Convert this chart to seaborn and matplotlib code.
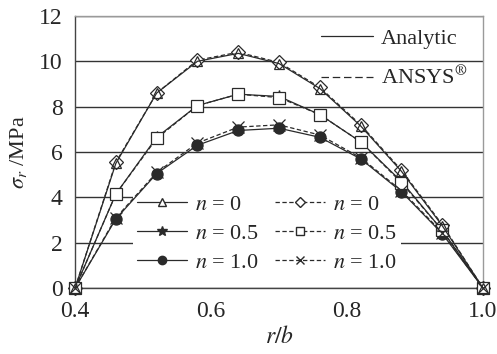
import glob
import numpy as np
import pandas as pd
import matplotlib
matplotlib.use("Agg")
import matplotlib.pyplot as plt
import seaborn as sns
from matplotlib import font_manager
from matplotlib.lines import Line2D

# r/b positions and stresses (MPa)
r_b = [0.4, 0.46, 0.52, 0.58, 0.64, 0.70, 0.76, 0.82, 0.88, 0.94, 1.0]
analytic_n0 = [0, 5.5, 8.6, 10.0, 10.35, 9.9, 8.8, 7.15, 5.15, 2.75, 0]
analytic_n05 = [0, 4.15, 6.65, 8.05, 8.55, 8.45, 7.65, 6.45, 4.7, 2.55, 0]
analytic_n1 = [0, 3.05, 5.05, 6.3, 6.95, 7.05, 6.65, 5.7, 4.25, 2.4, 0]
ansys_n0 = [0, 5.55, 8.6, 10.05, 10.4, 9.95, 8.85, 7.2, 5.2, 2.8, 0]
ansys_n05 = [0, 4.15, 6.6, 8.05, 8.55, 8.4, 7.65, 6.45, 4.65, 2.55, 0]
ansys_n1 = [0, 3.1, 5.1, 6.4, 7.1, 7.2, 6.75, 5.75, 4.3, 2.45, 0]

n_labels = ["0", "0.5", "1.0"]
y_ticks = [0, 2, 4, 6, 8, 10, 12]
x_ticks = [0.4, 0.6, 0.8, 1.0]

sns.set_style("white")
serif = "DejaVu Serif"
for f in glob.glob("/usr/share/fonts/**/LiberationSerif*.ttf", recursive=True):
    font_manager.fontManager.addfont(f)
    if f.endswith("LiberationSerif-Regular.ttf"):
        serif = font_manager.FontProperties(fname=f).get_name()
plt.rcParams["font.family"] = [serif, "DejaVu Serif"]
plt.rcParams["mathtext.fontset"] = "stix"

LC = "#2a2a2a"
DASH = (0, (3.5, 2))
fig = plt.figure(figsize=(4.97, 3.54), dpi=100)
ax = fig.add_axes([0.151, 0.186, 0.821, 0.769])

# (values, linestyle, marker, facecolor, size, zorder)
series = [
    (analytic_n05, "-", "*", LC, 8, 3),
    (analytic_n1, "-", "o", LC, 8, 3),
    (ansys_n0, "--", "D", "white", 7, 4),
    (ansys_n05, "--", "s", "white", 8.5, 4),
    (ansys_n1, "--", "x", LC, 8, 4),
    (analytic_n0, "-", "^", "none", 7.5, 5),
]
for vals, ls, mk, fc, ms, z in series:
    df = pd.DataFrame({"r": r_b, "s": vals})
    sns.lineplot(data=df, x="r", y="s", ax=ax, color=LC,
                 linestyle="-" if ls == "-" else DASH,
                 linewidth=0.9, marker=mk, markersize=ms, markerfacecolor=fc,
                 markeredgecolor=LC, markeredgewidth=0.9, zorder=z,
                 clip_on=False)

ax.set_xlim(0.4, 1.0)
ax.set_ylim(0, 12)
ax.set_xticks(x_ticks)
ax.set_xticklabels(["0.4", "0.6", "0.8", "1.0"])
ax.set_yticks(y_ticks)
ax.yaxis.grid(True, color="#333333", linewidth=1.0)
ax.set_axisbelow(True)
for sp in ax.spines.values():
    sp.set_color("#9a9a9a")
    sp.set_linewidth(1.0)
ax.spines["left"].set_color("#444444")
ax.spines["bottom"].set_color("#444444")
ax.tick_params(axis="both", labelsize=17, length=5, width=1, color="#444444",
               direction="out", pad=4)
ax.set_xlabel(r"$r/b$", fontsize=17, labelpad=3)
ax.set_ylabel(r"$\sigma_r$ /MPa", fontsize=16, labelpad=7)

# method legend (top right)
method_handles = [Line2D([], [], color=LC, lw=0.9, ls="-"),
                  Line2D([], [], color=LC, lw=0.9, ls=(0, (6, 3)))]
leg1 = ax.legend(method_handles, ["Analytic", r"ANSYS$^{\circledR}$"],
                 loc="upper left", bbox_to_anchor=(0.591, 0.972), frameon=False,
                 fontsize=16, handlelength=2.35, handletextpad=0.36,
                 labelspacing=0.8, borderaxespad=0, borderpad=0.2)
ax.add_artist(leg1)

# n legend (lower middle), white box hides the grid but not the curves
h = [
    Line2D([], [], color=LC, lw=0.9, marker="^", mfc="white", mec=LC, ms=6),
    Line2D([], [], color=LC, lw=0.9, marker="*", mfc=LC, mec=LC, ms=7),
    Line2D([], [], color=LC, lw=0.9, marker="o", mfc=LC, mec=LC, ms=6),
    Line2D([], [], color=LC, lw=0.9, ls=DASH, marker="D", mfc="white", mec=LC, ms=5),
    Line2D([], [], color=LC, lw=0.9, ls=DASH, marker="s", mfc="white", mec=LC, ms=6),
    Line2D([], [], color=LC, lw=0.9, ls=DASH, marker="x", mfc=LC, mec=LC, ms=6),
]
labels = [rf"$n$ = {n}" for n in n_labels] * 2
leg2 = ax.legend(h, labels, ncol=2, loc="upper left",
                 bbox_to_anchor=(0.142, 0.362), frameon=True, framealpha=1,
                 facecolor="white", edgecolor="none", fancybox=False,
                 fontsize=16, handlelength=2.25, handletextpad=0.36,
                 columnspacing=0.72, labelspacing=0.38, borderpad=0.2,
                 borderaxespad=0)
leg2.set_zorder(2.5)

fig.savefig("out.png", dpi=100)
